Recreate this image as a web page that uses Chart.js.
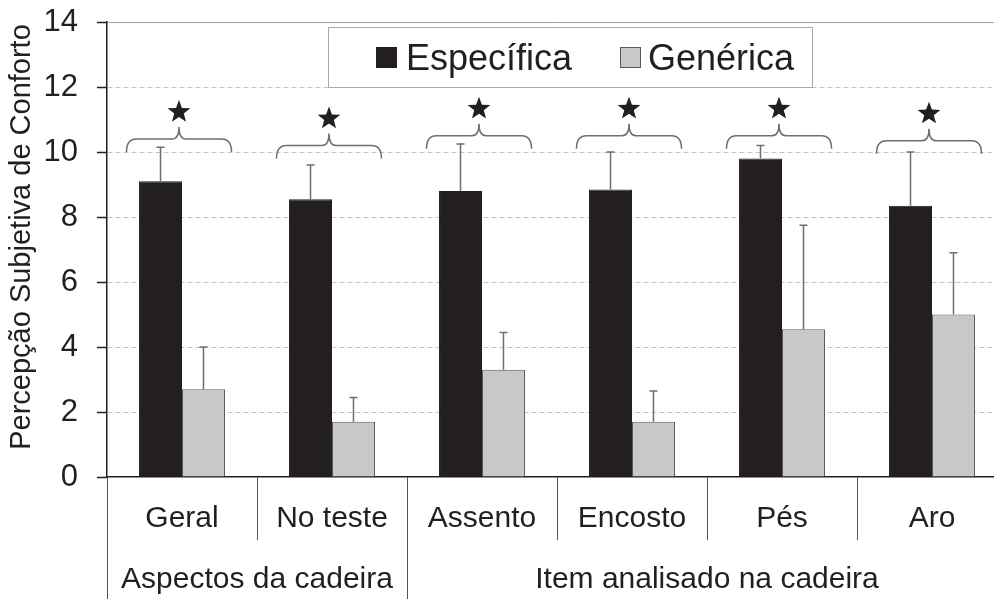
<!DOCTYPE html>
<html>
<head>
<meta charset="utf-8">
<script src="https://cdn.jsdelivr.net/npm/chart.js@4.4.0/dist/chart.umd.min.js"></script>
<style>
  html, body { margin: 0; padding: 0; background: #fff; overflow: hidden; }
  #wrap { position: relative; width: 1007px; height: 599px; }
</style>
</head>
<body>
<div id="wrap"><canvas id="chart"></canvas></div>
<script>
// dados
var categorias = ['Geral', 'No teste', 'Assento', 'Encosto', 'Pés', 'Aro'];
var grupos = ['Aspectos da cadeira', 'Item analisado na cadeira'];
var gruposTamanho = [2, 4];
var especifica = [9.1, 8.55, 8.8, 8.85, 9.8, 8.35];
var especificaErro = [10.15, 9.6, 10.25, 10.0, 10.2, 10.0];
var generica = [2.7, 1.7, 3.3, 1.7, 4.55, 5.0];
var genericaErro = [4.0, 2.45, 4.45, 2.65, 7.75, 6.9];
var chaveNivel = [10.0, 9.8, 10.1, 10.1, 10.1, 9.95];
var tituloY = 'Percepção Subjetiva de Conforto';

var fonte = "'Liberation Sans', Arial, sans-serif";
var escuro = '#231f20';

function chave(ctx, xl, xr, yb) {
    var xc = (xl + xr) / 2, h1 = 13, h2 = 25, r = 10, r2 = 7;
    ctx.beginPath();
    ctx.moveTo(xl, yb);
    ctx.quadraticCurveTo(xl, yb - h1, xl + r, yb - h1);
    ctx.lineTo(xc - r2, yb - h1);
    ctx.quadraticCurveTo(xc, yb - h1, xc, yb - h2);
    ctx.quadraticCurveTo(xc, yb - h1, xc + r2, yb - h1);
    ctx.lineTo(xr - r, yb - h1);
    ctx.quadraticCurveTo(xr, yb - h1, xr, yb);
    ctx.stroke();
}

function estrela(ctx, cx, cy, ro, ri) {
    ctx.beginPath();
    for (var k = 0; k < 10; k++) {
        var r = k % 2 === 0 ? ro : ri;
        var a = -Math.PI / 2 + k * Math.PI / 5;
        var px = cx + r * Math.cos(a), py = cy + r * Math.sin(a);
        if (k === 0) ctx.moveTo(px, py); else ctx.lineTo(px, py);
    }
    ctx.closePath();
    ctx.fill();
}

var extras = {
    id: 'extras',
    afterDatasetsDraw: function(chart) {
        var ctx = chart.ctx, y = chart.scales.y;
        var erros = [especificaErro, genericaErro];
        ctx.save();
        ctx.strokeStyle = '#6d6e70';
        ctx.lineWidth = 1.5;
        chart.data.datasets.forEach(function(ds, d) {
            chart.getDatasetMeta(d).data.forEach(function(bar, i) {
                var topo = y.getPixelForValue(erros[d][i]);
                ctx.beginPath();
                ctx.moveTo(bar.x, bar.y);
                ctx.lineTo(bar.x, topo);
                ctx.moveTo(bar.x - 4, topo);
                ctx.lineTo(bar.x + 4, topo);
                ctx.stroke();
            });
        });
        ctx.restore();
    },
    afterDraw: function(chart) {
        var ctx = chart.ctx, x = chart.scales.x, y = chart.scales.y;
        var area = chart.chartArea;
        var larg = (area.right - area.left) / categorias.length;
        ctx.save();

        // marcas do eixo y
        ctx.strokeStyle = escuro;
        ctx.lineWidth = 1.5;
        y.ticks.forEach(function(t) {
            var py = Math.round(y.getPixelForValue(t.value)) + 0.5;
            ctx.beginPath();
            ctx.moveTo(area.left - 10, py);
            ctx.lineTo(area.left, py);
            ctx.stroke();
        });

        // título do eixo y
        ctx.save();
        ctx.translate(22, 237);
        ctx.rotate(-Math.PI / 2);
        ctx.fillStyle = escuro;
        ctx.font = '29px ' + fonte;
        ctx.textAlign = 'center';
        ctx.textBaseline = 'middle';
        ctx.fillText(tituloY, 0, 0);
        ctx.restore();

        // chaves e estrelas
        ctx.strokeStyle = '#6d6e70';
        ctx.fillStyle = escuro;
        ctx.lineWidth = 1.5;
        categorias.forEach(function(c, i) {
            var cx = x.getPixelForValue(i) - 3;
            var yb = y.getPixelForValue(chaveNivel[i]);
            chave(ctx, cx - larg * 0.35, cx + larg * 0.35, yb);
            estrela(ctx, cx, yb - 40, 12, 5);
        });

        // rótulos das categorias
        ctx.fillStyle = escuro;
        ctx.textAlign = 'center';
        ctx.textBaseline = 'middle';
        ctx.font = '30px ' + fonte;
        categorias.forEach(function(c, i) {
            ctx.fillText(c, x.getPixelForValue(i), 519);
        });

        // grupos
        ctx.strokeStyle = '#555';
        ctx.lineWidth = 1;
        var ini = 0;
        grupos.forEach(function(g, k) {
            var xl = area.left + ini * larg;
            var xr = xl + gruposTamanho[k] * larg;
            ctx.beginPath();
            ctx.moveTo(Math.round(xl) + 0.5, area.bottom);
            ctx.lineTo(Math.round(xl) + 0.5, 599);
            ctx.stroke();
            ctx.fillText(g, (xl + xr) / 2, 580);
            ini += gruposTamanho[k];
        });

        // legenda
        ctx.fillStyle = '#fff';
        ctx.strokeStyle = '#a7a9ac';
        ctx.lineWidth = 1;
        ctx.fillRect(328.5, 27.5, 484, 60);
        ctx.strokeRect(328.5, 27.5, 484, 60);
        var itens = [[376, 406], [620, 648]];
        ctx.textAlign = 'left';
        ctx.textBaseline = 'alphabetic';
        ctx.font = '36px ' + fonte;
        chart.data.datasets.forEach(function(ds, d) {
            ctx.fillStyle = ds.backgroundColor;
            ctx.strokeStyle = ds.borderColor;
            ctx.fillRect(itens[d][0], 47, 21, 21);
            ctx.strokeRect(itens[d][0] + 0.5, 47.5, 20, 20);
            ctx.fillStyle = escuro;
            ctx.fillText(ds.label, itens[d][1], 70);
        });
        ctx.restore();
    }
};

new Chart(document.getElementById('chart'), {
    type: 'bar',
    data: {
        labels: categorias,
        datasets: [{
            label: 'Específica',
            data: especifica,
            backgroundColor: escuro,
            borderColor: escuro,
            borderWidth: 1,
            categoryPercentage: 0.573,
            barPercentage: 1.0
        }, {
            label: 'Genérica',
            data: generica,
            backgroundColor: '#c7c8ca',
            borderColor: '#58595b',
            borderWidth: 1,
            categoryPercentage: 0.573,
            barPercentage: 1.0
        }]
    },
    options: {
        responsive: true,
        maintainAspectRatio: false,
        animation: false,
        layout: { padding: { top: 22, left: 0, right: 0, bottom: 0 } },
        plugins: {
            legend: { display: false },
            tooltip: { enabled: false }
        },
        scales: {
            x: {
                afterFit: function(s) { s.height = 122; s.paddingLeft = 0; s.paddingRight = 0; },
                ticks: { display: false },
                grid: {
                    offset: true,
                    drawOnChartArea: false,
                    drawTicks: true,
                    tickLength: 63,
                    color: '#555',
                    tickColor: '#555',
                    lineWidth: 1
                },
                border: { color: escuro, width: 1.5 }
            },
            y: {
                min: 0,
                max: 14,
                afterFit: function(s) { s.width = 107; s.paddingTop = 0; s.paddingBottom = 0; },
                ticks: {
                    stepSize: 2,
                    padding: 29,
                    color: escuro,
                    font: { family: fonte, size: 31 }
                },
                grid: {
                    drawTicks: false,
                    color: function(c) {
                        if (c.tick.value === 0) return 'rgba(0,0,0,0)';
                        return c.tick.value === 14 ? '#9d9fa2' : '#c4c4c4';
                    },
                    lineWidth: 1
                },
                border: {
                    color: escuro,
                    width: 1.5,
                    dash: function(c) { return c.tick && c.tick.value === 14 ? [] : [5, 3]; }
                }
            }
        }
    },
    plugins: [extras]
});
</script>
</body>
</html>
